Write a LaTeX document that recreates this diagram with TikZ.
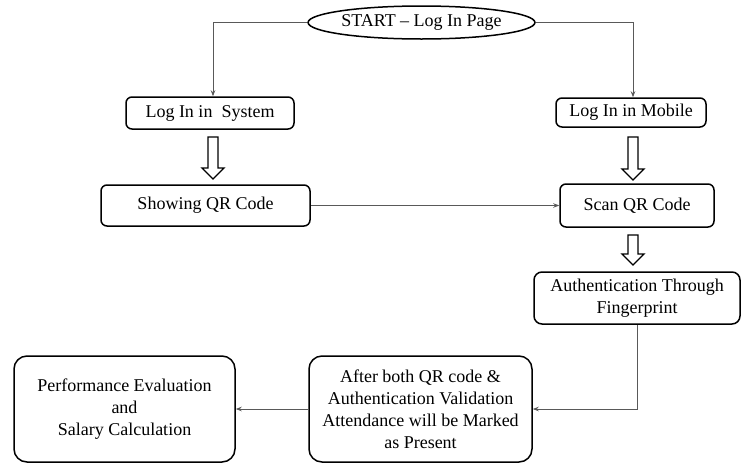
\documentclass[tikz,border=0pt]{standalone}
\usepackage{fontspec}
\setmainfont{Liberation Serif}
\usetikzlibrary{shapes.geometric,arrows.meta}
\newcommand\harrow[3]{%
  \draw[hollowline] (#1-5,#2) -- (#1+5,#2) -- (#1+5,#3-11) -- (#1+11,#3-11) -- (#1,#3)
    -- (#1-11,#3-11) -- (#1-5,#3-11) -- cycle;}
\begin{document}
\begin{tikzpicture}[x=1pt,y=-1pt,
  every node/.style={font=\rmfamily\fontsize{18pt}{22pt}\selectfont},
  box/.style={draw=black,line width=1.5pt,rounded corners=6pt,inner sep=0pt,align=center},
  bigbox/.style={box,rounded corners=13pt},
  oval/.style={draw=black,line width=1.5pt,ellipse,inner sep=0pt},
  hollowline/.style={draw=black,line width=1.3pt,fill=white,line join=miter},
  conn/.style={draw=black!65,line width=0.8pt,-{Stealth[length=6pt,width=4.5pt]}}]
\useasboundingbox (0,0) rectangle (741,464);
\node[oval,minimum width=212pt,minimum height=33pt] (start) at (421.5,22.5) {START – Log In Page};
\node[box,minimum width=168pt,minimum height=32pt] (sys) at (210,113) {Log In in~ System};
\node[box,minimum width=150pt,minimum height=29pt] (mob) at (631,112.5) {Log In in Mobile};
\node[box,minimum width=209pt,minimum height=41pt] (show) at (205.5,205.5) {Showing QR Code};
\node[box,minimum width=154pt,minimum height=43pt] (scan) at (637,205.5) {Scan QR Code};
\node[box,rounded corners=8pt,minimum width=206pt,minimum height=52pt] (auth) at (637,298) {Authentication Through\\Fingerprint};
\node[bigbox,minimum width=223pt,minimum height=106pt] (after) at (420.5,409) {After both QR code \&\\Authentication Validation\\Attendance will be Marked\\as Present};
\node[bigbox,minimum width=221pt,minimum height=106pt] (perf) at (124.5,409) {Performance Evaluation\\and\\Salary Calculation};
\harrow{213}{137}{179}
\harrow{633}{137}{180}
\harrow{633}{235}{265}
\draw[conn] (start.west) -| ([xshift=3pt]sys.north);
\draw[conn] (start.east) -| ([xshift=2pt]mob.north);
\draw[conn] (show.east) -- (scan.west);
\draw[conn] (auth.south) |- (after.east);
\draw[conn] (after.west) -- (perf.east);
\end{tikzpicture}
\end{document}
